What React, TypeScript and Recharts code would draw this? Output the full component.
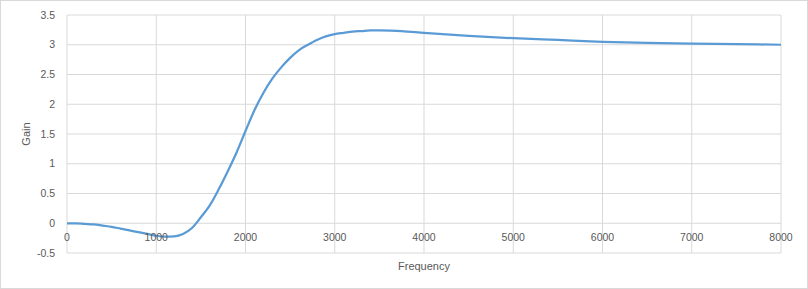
import React from 'react';
import { LineChart, Line, XAxis, YAxis, CartesianGrid } from 'recharts';

const frequencies = [
  0, 100, 200, 300, 400, 500, 600, 700, 800, 900, 1000, 1100, 1200, 1300, 1400,
  1500, 1600, 1700, 1800, 1900, 2000, 2100, 2200, 2300, 2400, 2500, 2600, 2700,
  2800, 2900, 3000, 3100, 3200, 3300, 3400, 3500, 3750, 4000, 4500, 5000, 5500,
  6000, 6500, 7000, 7500, 8000,
];
const gains = [
  0, 0, -0.01, -0.02, -0.04, -0.06, -0.09, -0.12, -0.15, -0.18, -0.21, -0.225, -0.22, -0.18, -0.08,
  0.1, 0.3, 0.57, 0.87, 1.19, 1.55, 1.9, 2.19, 2.43, 2.62, 2.78, 2.91, 3.0,
  3.08, 3.14, 3.18, 3.2, 3.22, 3.23, 3.24, 3.24, 3.23, 3.2, 3.15, 3.11, 3.08,
  3.05, 3.03, 3.02, 3.01, 3.0,
];
const xTicks = [0, 1000, 2000, 3000, 4000, 5000, 6000, 7000, 8000];
const yTicks = [-0.5, 0, 0.5, 1, 1.5, 2, 2.5, 3, 3.5];

const data = frequencies.map((f, i) => ({ freq: f, gain: gains[i] }));

const W = 806;
const H = 287;
const margin = { top: 14, right: 26, bottom: 10, left: 0 };
const xAxisHeight = 25;
const plotHeight = H - margin.top - margin.bottom - xAxisHeight;
const yMin = yTicks[0];
const yMax = yTicks[yTicks.length - 1];
// x labels sit on the zero line, like the Excel axis crossing
const zeroOffset = (plotHeight * (0 - yMin)) / (yMax - yMin);

const font = '"Liberation Sans", Arial, sans-serif';
const textColor = '#595959';

const XTick = (props: any) => {
  const { x, y, payload } = props;
  return (
    <text x={x} y={y - zeroOffset} dy="0.71em" textAnchor="middle" fill={textColor} fontSize={10.5} fontFamily={font}>
      {payload.value}
    </text>
  );
};

export default function App() {
  return (
    <div
      style={{
        position: 'absolute',
        left: 0,
        top: 0,
        width: 808,
        height: 289,
        boxSizing: 'border-box',
        border: '1px solid #d9d9d9',
        background: '#fff',
      }}
    >
      <LineChart width={W} height={H} data={data} margin={margin}>
        <CartesianGrid stroke="#d9d9d9" strokeWidth={1} />
        <XAxis
          dataKey="freq"
          type="number"
          domain={[0, 8000]}
          ticks={xTicks}
          height={xAxisHeight}
          axisLine={false}
          tickLine={false}
          tickSize={0}
          tickMargin={10}
          tick={<XTick />}
          interval={0}
          label={{
            content: ({ viewBox }: any) => (
              <text
                x={viewBox.x + viewBox.width / 2}
                y={viewBox.y + 13}
                dy="0.35em"
                textAnchor="middle"
                fill={textColor}
                fontSize={11}
                fontFamily={font}
              >
                Frequency
              </text>
            ),
          }}
        />
        <YAxis
          type="number"
          domain={[yMin, yMax]}
          ticks={yTicks}
          width={66}
          axisLine={false}
          tickLine={false}
          tickSize={0}
          tickMargin={12}
          interval={0}
          tick={{ fill: textColor, fontSize: 10.5, fontFamily: font }}
          label={{
            content: ({ viewBox }: any) => {
              const cx = viewBox.x + 25;
              const cy = viewBox.y + viewBox.height / 2;
              return (
                <text
                  x={cx}
                  y={cy}
                  dy="0.35em"
                  textAnchor="middle"
                  transform={`rotate(-90 ${cx} ${cy})`}
                  fill={textColor}
                  fontSize={11}
                  fontFamily={font}
                >
                  Gain
                </text>
              );
            },
          }}
        />
        <Line
          type="monotone"
          dataKey="gain"
          stroke="#5b9bd5"
          strokeWidth={2.25}
          dot={false}
          isAnimationActive={false}
        />
      </LineChart>
    </div>
  );
}
